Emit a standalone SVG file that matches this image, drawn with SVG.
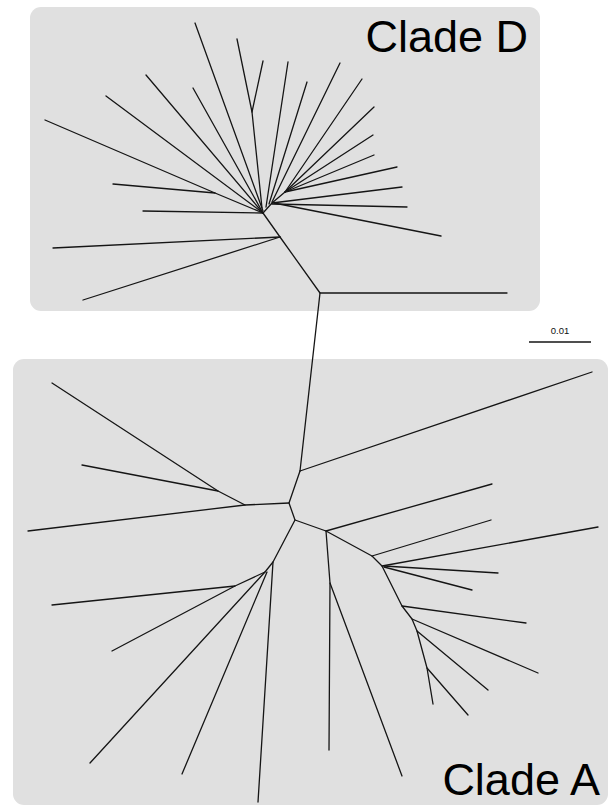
<svg xmlns="http://www.w3.org/2000/svg" width="610" height="807" viewBox="0 0 610 807">
<style>
.box{fill:#e0e0e0;stroke:none}
.br{stroke:#151515;stroke-width:1.3;fill:none;stroke-linecap:round;stroke-linejoin:round}
.lbl{font-family:"Liberation Sans",Arial,sans-serif;font-size:45px;fill:#000}
.sc{font-family:"Liberation Sans",Arial,sans-serif;font-size:9.5px;fill:#111}
</style>
<rect width="610" height="807" fill="#ffffff"/>
<g id="cladeD">
<rect class="box" x="30" y="7" width="510" height="304" rx="11"/>
<text class="lbl" x="528" y="52" text-anchor="end">Clade D</text>
</g>
<g id="cladeA">
<rect class="box" x="13" y="359" width="595" height="446" rx="11"/>
<text class="lbl" x="600" y="795" text-anchor="end">Clade A</text>
</g>
<g id="scale">
<text class="sc" x="560" y="334" text-anchor="middle">0.01</text>
<line x1="529" y1="342" x2="591" y2="342" stroke="#151515" stroke-width="1.6"/>
</g>
<g id="connectors" class="br">
<!-- Clade D -->
<polyline points="45,120 215,193 263,213"/>
<line x1="113" y1="184" x2="215" y2="193"/>
<line x1="106" y1="96" x2="263" y2="213"/>
<line x1="146" y1="75" x2="263" y2="213"/>
<line x1="193" y1="88" x2="263" y2="213"/>
<line x1="143" y1="211" x2="263" y2="213"/>
<line x1="195" y1="23" x2="263" y2="211"/>
<polyline points="237,39 252,112 262,208"/>
<line x1="263" y1="61" x2="252" y2="112"/>
<line x1="288" y1="62" x2="266" y2="207"/>
<line x1="307" y1="82" x2="269" y2="204"/>
<line x1="340" y1="63" x2="272" y2="202"/>
<polyline points="362,79 285,192 272,203 263,213"/>
<line x1="374" y1="107" x2="285" y2="192"/>
<line x1="373" y1="135" x2="285" y2="192"/>
<line x1="374" y1="155" x2="285" y2="192"/>
<line x1="397" y1="167" x2="285" y2="192"/>
<line x1="402" y1="187" x2="272" y2="203"/>
<line x1="407" y1="207" x2="272" y2="204"/>
<line x1="441" y1="236" x2="274" y2="203"/>
<polyline points="263,213 280,237 320,293 507,293"/>
<line x1="53" y1="248" x2="280" y2="237"/>
<line x1="83" y1="300" x2="280" y2="237"/>
<!-- stem -->
<line x1="320" y1="293" x2="300" y2="471"/>
<!-- Clade A -->
<line x1="300" y1="471" x2="592" y2="372"/>
<polyline points="300,471 289,503 295,520 326,531 372,556 382,566 402,606 412,619 417,631 427,668 433,704"/>
<line x1="427" y1="668" x2="468" y2="715"/>
<line x1="417" y1="631" x2="488" y2="690"/>
<line x1="412" y1="619" x2="538" y2="673"/>
<line x1="402" y1="606" x2="526" y2="623"/>
<line x1="382" y1="566" x2="598" y2="527"/>
<line x1="384" y1="566" x2="498" y2="573"/>
<line x1="384" y1="567" x2="472" y2="590"/>
<line x1="372" y1="556" x2="491" y2="520"/>
<line x1="326" y1="531" x2="492" y2="484"/>
<polyline points="326,531 330,583 329,750"/>
<line x1="330" y1="583" x2="402" y2="776"/>
<polyline points="289,503 245,505 28,531"/>
<polyline points="245,505 218,491 82,465"/>
<line x1="218" y1="491" x2="52" y2="383"/>
<polyline points="295,520 273,562 258,802"/>
<polyline points="273,562 265,572 235,586 52,605"/>
<line x1="235" y1="586" x2="112" y2="651"/>
<line x1="265" y1="572" x2="90" y2="763"/>
<line x1="267" y1="572" x2="182" y2="774"/>
</g>
</svg>
